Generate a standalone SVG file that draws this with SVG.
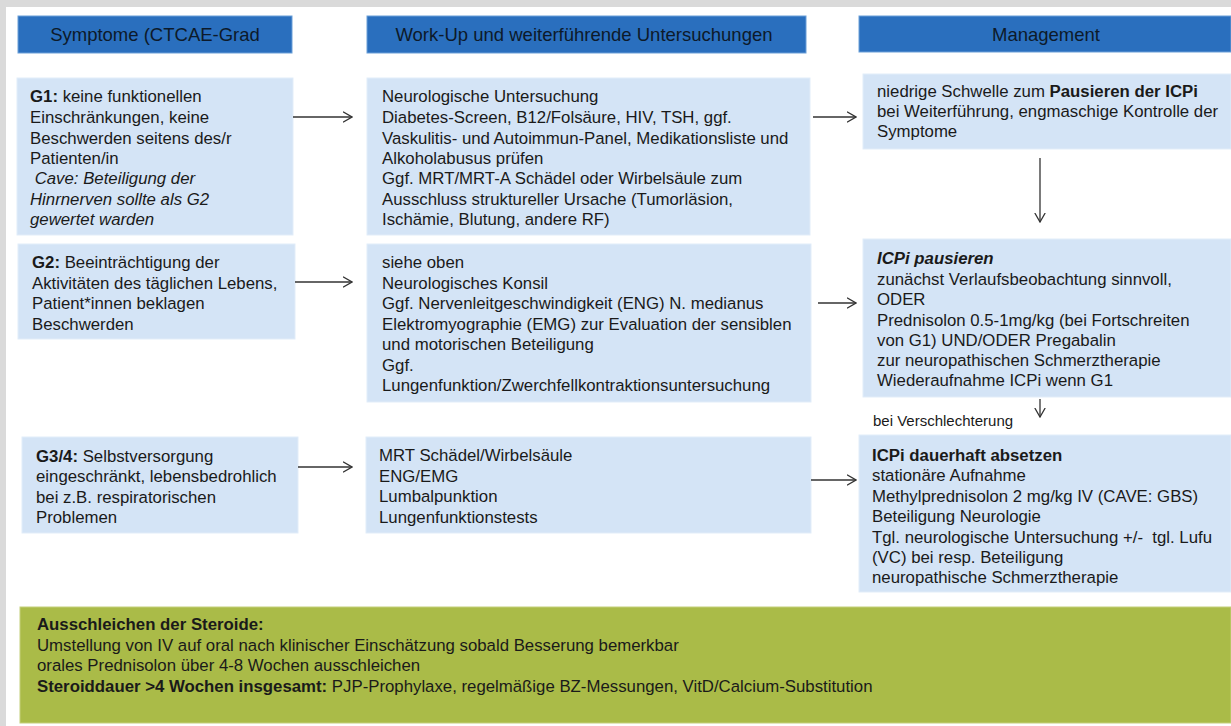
<svg xmlns="http://www.w3.org/2000/svg" width="1231" height="726" viewBox="0 0 1231 726">
<style>
text{font-family:"Liberation Sans",Arial,sans-serif;fill:#1a1a1a}
.hd{fill:#2a6fbe;stroke:#6a9fd8;stroke-width:1}
.ht{font-size:18.5px;text-anchor:middle;fill:#0d1a2a}
.bx{fill:#d4e4f6;stroke:#e2edf9;stroke-width:1}
.t{font-size:16.8px}
.s{font-size:15px}
.g{fill:#aabb48;stroke:#c4d07a;stroke-width:1}
.b{font-weight:bold}
.i{font-style:italic}
.cn{stroke:#333;stroke-width:1.3;fill:none}
</style>
<defs>
<marker id="ah" viewBox="0 0 10 12" refX="9.5" refY="6" markerWidth="10" markerHeight="12" markerUnits="userSpaceOnUse" orient="auto">
<path d="M0.5,0.8 L9.5,6 L0.5,11.2" fill="none" stroke="#333" stroke-width="1.3"/>
</marker>
</defs>
<rect x="0" y="0" width="1231" height="726" fill="#dadada"/>
<rect x="6" y="7" width="1225" height="719" fill="#ffffff"/>

<g id="h1"><rect class="hd" x="18" y="16" width="274" height="37"/><text class="ht" x="155" y="41">Symptome (CTCAE-Grad</text></g>
<g id="h2"><rect class="hd" x="367" y="16" width="439" height="37"/><text class="ht" x="584" y="41">Work-Up und weiterführende Untersuchungen</text></g>
<g id="h3"><rect class="hd" x="859" y="16" width="372" height="36"/><text class="ht" x="1046" y="41">Management</text></g>

<g id="g1"><rect class="bx" x="17" y="78" width="276" height="157"/>
<text class="t" x="30" y="102"><tspan class="b">G1:</tspan> keine funktionellen</text>
<text class="t" x="30" y="123">Einschränkungen, keine</text>
<text class="t" x="30" y="143.5">Beschwerden seitens des/r</text>
<text class="t" x="30" y="163.5">Patienten/in</text>
<text class="t i" x="30" y="184" xml:space="preserve"> Cave: Beteiligung der</text>
<text class="t i" x="30" y="204.5">Hinrnerven sollte als G2</text>
<text class="t i" x="30" y="225">gewertet warden</text>
</g>

<g id="w1"><rect class="bx" x="367" y="78" width="443" height="157"/>
<text class="t" x="382" y="102">Neurologische Untersuchung</text>
<text class="t" x="382" y="123">Diabetes-Screen, B12/Folsäure, HIV, TSH, ggf.</text>
<text class="t" x="382" y="143.5">Vaskulitis- und Autoimmun-Panel, Medikationsliste und</text>
<text class="t" x="382" y="163.5">Alkoholabusus prüfen</text>
<text class="t" x="382" y="184">Ggf. MRT/MRT-A Schädel oder Wirbelsäule zum</text>
<text class="t" x="382" y="204.5">Ausschluss struktureller Ursache (Tumorläsion,</text>
<text class="t" x="382" y="225">Ischämie, Blutung, andere RF)</text>
</g>

<g id="m1"><rect class="bx" x="863" y="74" width="368" height="75"/>
<text class="t" x="877" y="97">niedrige Schwelle zum <tspan class="b">Pausieren der ICPi</tspan></text>
<text class="t" x="877" y="117">bei Weiterführung, engmaschige Kontrolle der</text>
<text class="t" x="877" y="137">Symptome</text>
</g>

<g id="g2"><rect class="bx" x="18" y="244" width="277" height="95"/>
<text class="t" x="32" y="268"><tspan class="b">G2:</tspan> Beeinträchtigung der</text>
<text class="t" x="32" y="288.5">Aktivitäten des täglichen Lebens,</text>
<text class="t" x="32" y="309">Patient*innen beklagen</text>
<text class="t" x="32" y="329.5">Beschwerden</text>
</g>

<g id="w2"><rect class="bx" x="367" y="244" width="444" height="158"/>
<text class="t" x="382" y="268">siehe oben</text>
<text class="t" x="382" y="288.5">Neurologisches Konsil</text>
<text class="t" x="382" y="309">Ggf. Nervenleitgeschwindigkeit (ENG) N. medianus</text>
<text class="t" x="382" y="329.5">Elektromyographie (EMG) zur Evaluation der sensiblen</text>
<text class="t" x="382" y="350">und motorischen Beteiligung</text>
<text class="t" x="382" y="370.5">Ggf.</text>
<text class="t" x="382" y="391">Lungenfunktion/Zwerchfellkontraktionsuntersuchung</text>
</g>

<g id="m2"><rect class="bx" x="863" y="239" width="368" height="158"/>
<text class="t b i" x="877" y="263.5">ICPi pausieren</text>
<text class="t" x="877" y="284.5">zunächst Verlaufsbeobachtung sinnvoll,</text>
<text class="t" x="877" y="305">ODER</text>
<text class="t" x="877" y="325.5">Prednisolon 0.5-1mg/kg (bei Fortschreiten</text>
<text class="t" x="877" y="345.5">von G1) UND/ODER Pregabalin</text>
<text class="t" x="877" y="365.5">zur neuropathischen Schmerztherapie</text>
<text class="t" x="877" y="385.5">Wiederaufnahme ICPi wenn G1</text>
</g>

<g id="lbl"><text class="s" x="873" y="426">bei Verschlechterung</text></g>

<g id="g3"><rect class="bx" x="22" y="437" width="276" height="96"/>
<text class="t" x="36" y="462"><tspan class="b">G3/4:</tspan> Selbstversorgung</text>
<text class="t" x="36" y="482">eingeschränkt, lebensbedrohlich</text>
<text class="t" x="36" y="502.5">bei z.B. respiratorischen</text>
<text class="t" x="36" y="522.5">Problemen</text>
</g>

<g id="w3"><rect class="bx" x="366" y="437" width="445" height="96"/>
<text class="t" x="379" y="461">MRT Schädel/Wirbelsäule</text>
<text class="t" x="379" y="481.5">ENG/EMG</text>
<text class="t" x="379" y="502">Lumbalpunktion</text>
<text class="t" x="379" y="522.5">Lungenfunktionstests</text>
</g>

<g id="m3"><rect class="bx" x="859" y="435" width="372" height="157"/>
<text class="t b" x="872" y="460.5">ICPi dauerhaft absetzen</text>
<text class="t" x="872" y="480.5">stationäre Aufnahme</text>
<text class="t" x="872" y="501.5">Methylprednisolon 2 mg/kg IV (CAVE: GBS)</text>
<text class="t" x="872" y="521.5">Beteiligung Neurologie</text>
<text class="t" x="872" y="542.5" xml:space="preserve">Tgl. neurologische Untersuchung +/-  tgl. Lufu</text>
<text class="t" x="872" y="562.5">(VC) bei resp. Beteiligung</text>
<text class="t" x="872" y="582.5">neuropathische Schmerztherapie</text>
</g>

<g id="steroid"><rect class="g" x="20" y="607" width="1211" height="116"/>
<text class="t b" x="37" y="630">Ausschleichen der Steroide:</text>
<text class="t" x="37" y="650.5">Umstellung von IV auf oral nach klinischer Einschätzung sobald Besserung bemerkbar</text>
<text class="t" x="37" y="671">orales Prednisolon über 4-8 Wochen ausschleichen</text>
<text class="t" x="37" y="691.5"><tspan class="b">Steroiddauer &gt;4 Wochen insgesamt:</tspan> PJP-Prophylaxe, regelmäßige BZ-Messungen, VitD/Calcium-Substitution</text>
</g>

<g id="connectors">
<line class="cn" x1="293" y1="117" x2="352" y2="117" marker-end="url(#ah)"/>
<line class="cn" x1="813" y1="117" x2="856" y2="117" marker-end="url(#ah)"/>
<line class="cn" x1="1040" y1="158" x2="1040" y2="222" marker-end="url(#ah)"/>
<line class="cn" x1="295" y1="282" x2="352" y2="282" marker-end="url(#ah)"/>
<line class="cn" x1="818" y1="303" x2="856" y2="303" marker-end="url(#ah)"/>
<line class="cn" x1="1040" y1="399" x2="1040" y2="417" marker-end="url(#ah)"/>
<line class="cn" x1="298" y1="467" x2="352" y2="467" marker-end="url(#ah)"/>
<line class="cn" x1="811" y1="480" x2="856" y2="480" marker-end="url(#ah)"/>
</g>
</svg>
